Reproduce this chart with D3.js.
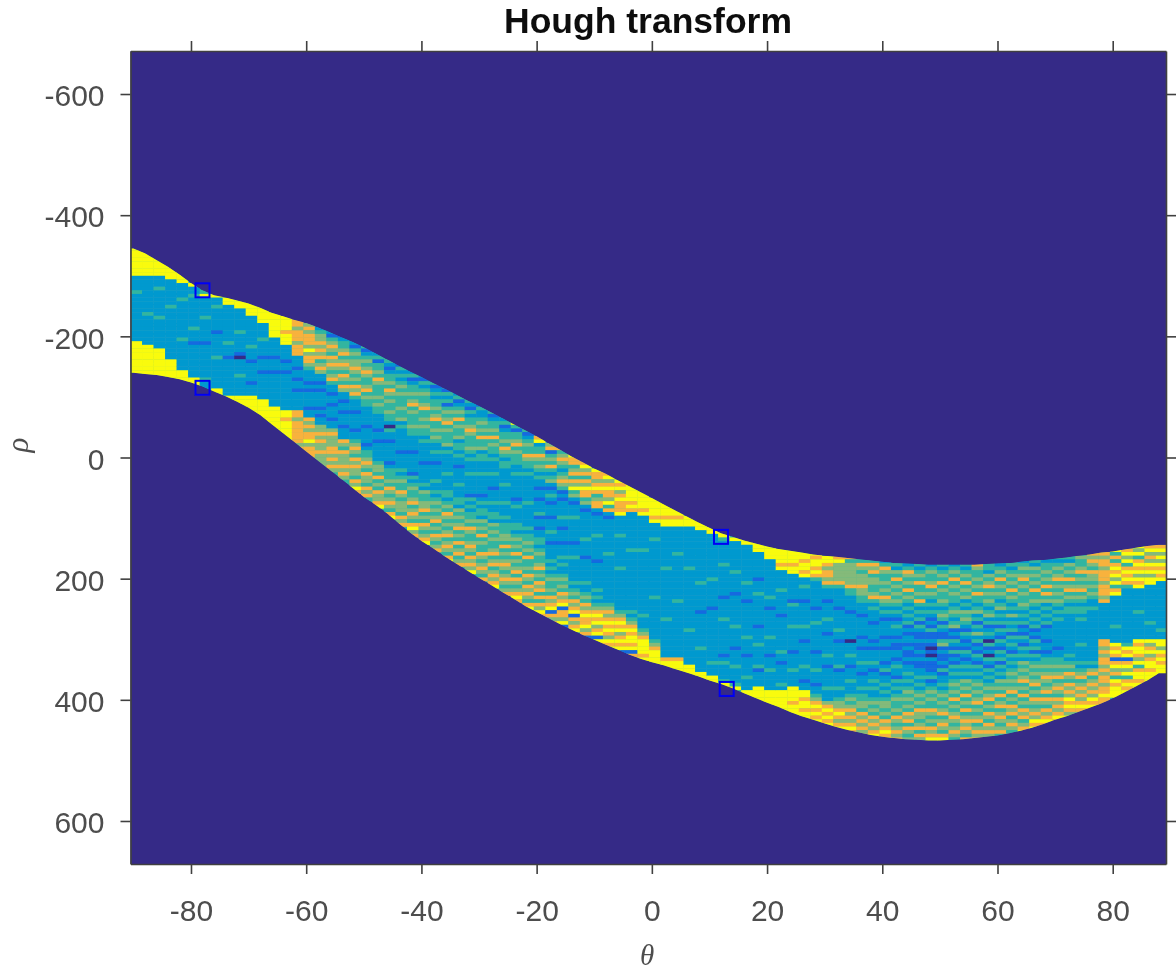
<!DOCTYPE html>
<html>
<head>
<meta charset="utf-8">
<script src="https://cdn.jsdelivr.net/npm/d3@7"></script>
<style>
  body { margin: 0; background: #fff; }
  text { font-family: "Liberation Sans", Arial, sans-serif; }
  .tick text { fill: #4d4d4d; font-size: 30px; }
  .tick line, .domain { stroke: #404040; stroke-width: 1.6px; }
</style>
</head>
<body>
<div id="viz"></div>
<script>
// theta bins are 2 degrees wide, rho cells are 6 units tall
var thetas = d3.range(-90, 90, 2);
var rhoStep = 6;
var thetaTicks = [-80, -60, -40, -20, 0, 20, 40, 60, 80];
var rhoTicks = [-600, -400, -200, 0, 200, 400, 600];

// edge of the band for each theta bin
var rhoTop = [-345,-337,-326,-315,-302,-288,-276,-268,-264,-259,-254,-247,-239,-233,-227,-222,-215,-207,-199,-191,-182,-172,-162,-152,-142,-133,-123,-114,-104,-94,-85,-75,-65,-55,-45,-35,-24,-13,-2,8,18,27,37,47,57,67,77,87,97,107,116,125,131,137,142,147,151,154,157,160,162,164,166,168,170,172,174,175,176,177,177,177,177,177,176,175,174,172,170,169,167,165,162,160,157,155,152,149,146,144];
var rhoBottom = [-140,-138,-136,-133,-129,-124,-117,-109,-101,-92,-82,-70,-55,-40,-25,-10,5,20,35,50,65,78,92,108,124,138,150,163,175,187,199,210,222,233,245,255,265,275,284,293,301,309,317,325,332,338,343,349,355,361,368,374,381,389,397,405,412,420,427,433,439,445,450,454,458,461,463,465,466,467,467,466,465,463,461,459,455,451,446,440,433,427,420,413,406,398,388,378,368,356];

// peaks found by houghpeaks
var peakTheta = [-78, -78, 12, 13];
var peakRho = [-276, -115, 131, 382];

// vote level per cell, top to bottom of the band, one string per theta bin
var levels = ["0", "1", "2", "3", "4", "5", "6"];
var levelColors = ["#352a87", "#1269e0", "#0699cf", "#33b5a0", "#84ba7a", "#f8b23e", "#f9fb0e"];
var votes = [
"6666666622 2232222222 2222226666 6666666",
"6666666222 2222222322 2222226666 666666",
"6666622232 2222223222 2222266666 666666",
"6666222222 2322222222 2222226666 6666",
"6662222322 2222222232 2222222666 666",
"6223222222 2232221222 2222226666 66",
"3622222322 2222122222 2222322266 66",
"6223222222 1222222322 2222226666 66",
"6622222222 2232221222 2222222666 666",
"6662222223 2222210222 2322222666 666",
"6666222222 2232221222 2212226666 66666",
"6666622223 2222122212 2222226666 6666",
"6666666222 2212221222 2222226666 666666",
"6666566622 2212212222 2222226656 66666655",
"5545554555 2221221221 2222255455 55554555",
"4545554645 5432221212 2221225454 55645554 5",
"2344545453 4542212122 2212122445 45445444 4",
"2134543545 4345322122 1222122454 445545454",
"1233453454 3543542212 2122212225 4354445454",
"2134344543 4354532221 2222122345 4354544354 65",
"3123434543 3453433222 2212222123 3454354435 453",
"2313343543 3343433222 2122122222 3443534354 456",
"3212334354 3433433203 2212222212 3334354345 4356",
"1323234343 3343342322 2222122223 2343354344 43545",
"2312334345 3433343322 2212222213 2343345345 435645",
"2132343345 3343433232 2222122222 3243344534 3543456",
"3123233434 5334343223 2212222322 3234343453 4354345",
"1323134345 3433342322 2223222233 2343543434 53454356",
"2312343534 3342332322 1222232223 3243434534 35345345",
"3213233454 3334323222 3222221323 2334354334 54354546",
"1322343435 3342332223 2222212323 3243435343 354345435",
"3123343534 3323222322 2122232233 2434343345 345345456",
"2312334354 3233222232 2223222323 3344353434 543454345",
"6313345343 3322322222 2123222233 2343435343 4535434565",
"3123433543 3232222222 3222222323 3434353343 5435454356",
"5623354343 2322122122 2312212233 2343345343 5453535465",
"4513435323 4212321222 1222322122 2232323433 4354561545",
"5345432345 4312122223 2212221222 3232234343 5456155461",
"6553453546 3421222322 2222122232 2222232343 545615456",
"5645354655 3421222222 2322221222 2223223435 456556451",
"6554565345 5212222232 2222212222 2223232345 656456165",
"5645655463 5212222222 2232222222 2222223454 565654656",
"6564565556 2222232222 2222322222 2222223456 56456561",
"6666656522 2222222232 2222222222 2222232345 65665615",
"6666656222 2222223222 2222222222 2222322234 5666656",
"6666656222 2322222222 2222222322 2222222223 456666",
"6666566222 2222222232 2222222222 2232222222 22256666",
"6656622222 2232222222 2222232222 2222222222 256666",
"6662222222 2222322222 2222222222 2322222222 2666666",
"6662222222 2222222322 2222212222 2222232222 22666",
"6622222222 2222322222 2212222222 2222222322 26666",
"6632222223 2222222212 2222322222 2222123222 2366",
"3622222222 3222221222 2222232222 2122223222 23636",
"6622222222 2232222122 2222222322 2212222232 2266",
"6662222222 1222322222 2221222232 2222312222 66666",
"6666222222 2222322122 2222232222 1222322222 666666",
"6666562222 2322222212 2222222232 2122222326 666666",
"6666566222 2222132222 2322222212 2223222266 665666",
"6656656223 2221222222 3222122222 2322212266 5665666",
"6566565322 2222212223 2222222122 2232221223 4565656",
"6654554532 2212222322 2122222322 1222223222 45656564",
"5644444532 2222122222 3221222222 3122223223 44565456",
"5344444453 3222212222 2220222322 1222322234 345454565",
"3543444544 3322212222 2122122232 2122232334 435454545",
"3545344334 5323222122 2212122232 1223232234 3435454565",
"2354334343 5432321222 2122122212 3122323234 4343545656",
"3243534343 4323212322 1211221232 2132323433 4354345456",
"2354343534 3232323121 2212112122 3232343434 3545354345",
"3234353343 5323231321 1211212112 2323234343 5443453546",
"2343345343 2323212131 1210102111 2312343433 5434354566",
"3234353433 4323431321 1341211213 1223234343 4534543566",
"2343534343 3234323412 1321312132 3234343534 3454345436",
"3234353434 2324343213 2121321232 3243435343 5345454356",
"5433434353 3234231324 2312132132 3234343453 4345345456",
"3324345343 4323423123 2031203213 2323434534 3543545435",
"2343534343 2342323132 1321323132 3243435345 3454345354",
"3234343534 3232423231 3232132323 4343453435 45345435",
"2343453434 3343232312 1321323243 4345343534 354534565",
"3243434353 3432323231 2132313234 3434534354 34546565",
"2334343535 3423232312 2212212334 3454345354 3545656",
"3234345343 4343232322 2222212233 4345345435 4545656",
"3243435345 3432332222 2222222323 4354354546 565465",
"4334534345 3432332322 2222322223 2345345454 56546",
"5454354434 3432232222 2222222222 3245345454 65656",
"5455455545 5545222222 2222554545 5454554556 556",
"6353565646 3562222222 2322226565 1564536566 6",
"5646356565 3222222222 2222223656 1564635656 66",
"6463565646 5622222232 2222226566 5463566566",
"5645465646 6222222222 2322226456 4566566666 6",
"5646465656 2222222222 2223226646 5656666 66"
];

var width = 1176, height = 972;
var plotLeft = 130.5, plotRight = 1166, plotTop = 51, plotBottom = 864;

var x = d3.scaleLinear().domain([-90.5, 89.25]).range([plotLeft, plotRight]);
var y = d3.scaleLinear().domain([-671, 671]).range([plotTop, plotBottom]);
var color = d3.scaleOrdinal().domain(levels).range(levelColors);

// flatten the strings to one record per cell
var cells = [];
votes.forEach(function(col, i) {
  var start = Math.floor(rhoTop[i] / rhoStep) * rhoStep;
  col.replace(/ /g, "").split("").forEach(function(v, k) {
    cells.push({ theta: thetas[i], rho: start + k * rhoStep, v: v });
  });
});

var svg = d3.select("#viz").append("svg")
  .attr("width", width)
  .attr("height", height)
  .style("display", "block");

var defs = svg.append("defs");
// the reference is a soft upscaled bitmap
defs.append("filter").attr("id", "soft")
  .attr("filterUnits", "userSpaceOnUse")
  .attr("x", 0).attr("y", 0).attr("width", width).attr("height", height)
  .append("feGaussianBlur").attr("stdDeviation", 0.7);

var band = thetas.map(function(t, i) { return { t: t, a: rhoTop[i], b: rhoBottom[i] }; });
band.unshift({ t: -90.5, a: rhoTop[0], b: rhoBottom[0] });
band.push({ t: 89.5, a: rhoTop[89], b: rhoBottom[89] });
var bandArea = d3.area()
  .x(function(d) { return x(d.t); })
  .y0(function(d) { return y(d.a); })
  .y1(function(d) { return y(d.b); });
defs.append("clipPath").attr("id", "band").append("path").attr("d", bandArea(band));
defs.append("clipPath").attr("id", "plot").append("rect")
  .attr("x", plotLeft).attr("y", plotTop).attr("width", plotRight - plotLeft).attr("height", plotBottom - plotTop);

var g = svg.append("g").attr("filter", "url(#soft)");

g.append("rect")
  .attr("x", plotLeft).attr("y", plotTop)
  .attr("width", plotRight - plotLeft).attr("height", plotBottom - plotTop)
  .attr("fill", levelColors[0]);

var heat = g.append("g").attr("clip-path", "url(#plot)")
  .append("g").attr("clip-path", "url(#band)");

// teal underlay so a short column never shows the background
heat.append("path").attr("d", bandArea(band)).attr("fill", levelColors[3]);

heat.selectAll("rect.cell")
  .data(cells)
  .enter().append("rect")
  .attr("class", "cell")
  .attr("x", function(d) { return x(d.theta - 0.5); })
  .attr("y", function(d) { return y(d.rho); })
  .attr("width", x(1.5) - x(-0.5) + 0.3)
  .attr("height", y(rhoStep) - y(0) + 0.3)
  .attr("fill", function(d) { return color(d.v); });

// peak markers
g.selectAll("rect.peak")
  .data(peakTheta)
  .enter().append("rect")
  .attr("class", "peak")
  .attr("x", function(d) { return x(d) - 7; })
  .attr("y", function(d, i) { return y(peakRho[i]) - 7; })
  .attr("width", 14)
  .attr("height", 14)
  .attr("fill", "none")
  .attr("stroke", "#0000f5")
  .attr("stroke-width", 2);

// axes
function plain(d) { return String(d); }

g.append("g").attr("transform", "translate(0," + plotBottom + ")")
  .call(d3.axisBottom(x).tickValues(thetaTicks).tickFormat(plain).tickSize(10).tickSizeOuter(0).tickPadding(26));
g.append("g").attr("transform", "translate(0," + plotTop + ")")
  .call(d3.axisTop(x).tickValues(thetaTicks).tickFormat("").tickSize(10).tickSizeOuter(0));
g.append("g").attr("transform", "translate(" + plotLeft + ",0)")
  .call(d3.axisLeft(y).tickValues(rhoTicks).tickFormat(plain).tickSize(10).tickSizeOuter(0).tickPadding(16))
  .selectAll("text").attr("dy", "0.39em");
g.append("g").attr("transform", "translate(" + plotRight + ",0)")
  .call(d3.axisRight(y).tickValues(rhoTicks).tickFormat("").tickSize(10).tickSizeOuter(0));

// title and axis symbols
g.append("text")
  .attr("x", 648).attr("y", 33)
  .attr("text-anchor", "middle")
  .style("font-size", "35.5px")
  .style("font-weight", "bold")
  .attr("fill", "#111")
  .text("Hough transform");

g.append("text")
  .attr("x", 647).attr("y", 965)
  .attr("text-anchor", "middle")
  .style("font-family", '"Liberation Serif", serif')
  .style("font-style", "italic")
  .style("font-size", "29px")
  .attr("fill", "#4d4d4d")
  .text("θ");

g.append("text")
  .attr("transform", "translate(28,445) rotate(-90)")
  .attr("text-anchor", "middle")
  .style("font-family", '"Liberation Serif", serif')
  .style("font-style", "italic")
  .style("font-size", "31px")
  .attr("fill", "#4d4d4d")
  .text("ρ");
</script>
</body>
</html>
